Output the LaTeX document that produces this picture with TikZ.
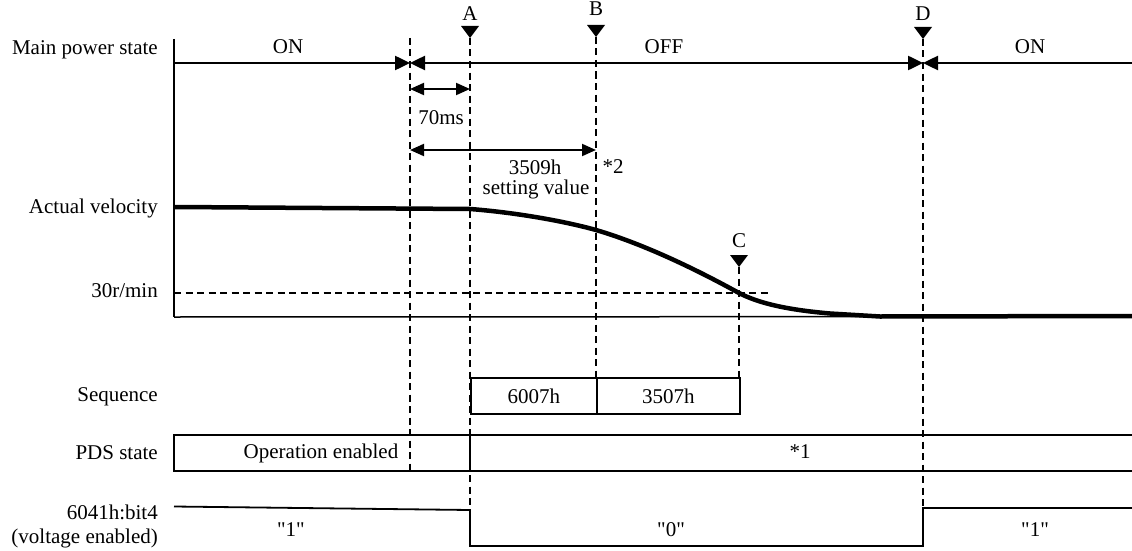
\documentclass[tikz,border=0pt]{standalone}
\usepackage{fontspec}
\setmainfont{Liberation Serif}[Ligatures=TeXOff]
\usetikzlibrary{arrows.meta}
\begin{document}
\begin{tikzpicture}[x=1pt,y=-1pt,
  every node/.style={font=\fontsize{21}{25}\selectfont, inner sep=0pt},
  lbl/.style={anchor=east},
  dline/.style={line width=1.6pt, dash pattern=on 7pt off 4.5pt},
  pline/.style={line width=2.5pt},
  sigline/.style={line width=1.8pt},
  thinline/.style={line width=1.5pt},
  vel/.style={line width=4.5pt},
  tipR/.style={-{Triangle[length=15pt,width=14pt]}},
  tipB/.style={{Triangle[length=15pt,width=14pt]}-{Triangle[length=15pt,width=14pt]}},
  dimarrow/.style={line width=2pt,{Triangle[length=14pt,width=12pt]}-{Triangle[length=14pt,width=12pt]}},
  marker/.style={fill=black}
]
\useasboundingbox (0,0) rectangle (1132,551);

% ---- left labels
\node[lbl] (lMain) at (158,50) {Main power state};
\node[lbl] (lVel) at (158,208) {Actual velocity};
\node[lbl] (l30) at (158,291) {30r/min};
\node[lbl] (lSeq) at (158,397) {Sequence};
\node[lbl] (lPDS) at (158,453) {PDS state};
\node[lbl] (lBit) at (158,512) {6041h:bit4};
\node[lbl] (lVolt) at (158,538) {(voltage enabled)};

% ---- key coordinates
\coordinate (axTop) at (174,39);
\coordinate (axBot) at (174,317);
\coordinate (pL) at (174,63);
\coordinate (p1) at (410,63);
\coordinate (pD) at (923,63);
\coordinate (pR) at (1132,63);

% ---- dashed time lines
\coordinate (t1top) at (410,38);  \coordinate (t1bot) at (410,474);
\coordinate (tAtop) at (470,38); \coordinate (tAbot) at (470,510);
\coordinate (tBtop) at (596,37);  \coordinate (tBbot) at (596,377);
\coordinate (tCtop) at (739,267); \coordinate (tCbot) at (739,377);
\coordinate (tDtop) at (923,39);  \coordinate (tDbot) at (923,508);
\draw[dline] (t1top) -- (t1bot);
\draw[dline] (tAtop) -- (tAbot);
\draw[dline] (tBtop) -- (tBbot);
\draw[dline] (tCtop) -- (tCbot);
\draw[dline] (tDtop) -- (tDbot);

% ---- 30r/min dashed level
\coordinate (h30L) at (174,293);
\coordinate (h30R) at (768,293);
\draw[dline] (h30L) -- (h30R);

% ---- axes
\draw[thinline] (axTop) -- (axBot);
\coordinate (velAxR) at (1132,316.5);
\draw[thinline] (axBot) -- (velAxR);

% ---- main power state line
\draw[pline,tipR] (pL) -- (p1);
\draw[pline,tipB] (p1) -- (pD);
\draw[pline,tipR] (pR) -- (pD);
\node (on1) at (288,47) {ON};
\node (off) at (664,47) {OFF};
\node (on2) at (1030,47) {ON};

% ---- markers
\fill[marker] (tAtop) -- ++(-9,-12) -- ++(18,0) -- cycle;
\fill[marker] (tBtop) -- ++(-9,-12) -- ++(18,0) -- cycle;
\fill[marker] (tCtop) -- ++(-9,-12) -- ++(18,0) -- cycle;
\fill[marker] (tDtop) -- ++(-9,-12) -- ++(18,0) -- cycle;
\node (mA) at (470,14) {A};
\node (mB) at (596,9) {B};
\node (mC) at (739,241) {C};
\node (mD) at (923,14) {D};

% ---- dimension arrows
\coordinate (d70L) at (410,89);  \coordinate (d70R) at (470,89);
\draw[dimarrow] (d70L) -- (d70R);
\node (t70) at (441,118) {70ms};
\coordinate (d35L) at (410,150); \coordinate (d35R) at (596,150);
\draw[dimarrow] (d35L) -- (d35R);
\node (t3509) at (535,167) {3509h};
\node (tset) at (536,189) {setting value};
\node (tstar2) at (613,167) {*2};

% ---- actual velocity
\draw[vel, line join=round] (175,207) -- (470,209)
  .. controls (510,212) and (560,220) .. (596,230)
  .. controls (640,243) and (690,266) .. (739,293)
  .. controls (760,304) and (790,310) .. (830,313.5)
  -- (880,316.5) -- (1132,316);

% ---- sequence boxes
\node[draw, line width=1.8pt, minimum width=126pt, minimum height=36pt, anchor=north west] (s6007) at (470,377) {6007h};
\node[draw, line width=1.8pt, minimum width=143pt, minimum height=36pt, anchor=north west] (s3507) at (596,377) {3507h};

% ---- PDS state
\coordinate (pdsTL) at (174,435); \coordinate (pdsBL) at (174,471);
\coordinate (pdsTR) at (1132,435); \coordinate (pdsBR) at (1132,471);
\coordinate (pdsDT) at (470,435); \coordinate (pdsDB) at (470,471);
\draw[sigline] (pdsTR) -- (pdsTL) -- (pdsBL) -- (pdsBR);
\draw[sigline] (pdsDT) -- (pdsDB);
\node (opEn) at (321,453) {Operation enabled};
\node (star1) at (800,452) {*1};

% ---- 6041h bit4
\draw[sigline] (174,506.5) -- (470,510) -- (470,546) -- (923,546) -- (923,508) -- (1132,508);
\node (b1) at (291,530) {"1"};
\node (b0) at (671,530) {"0"};
\node (b2) at (1035,530) {"1"};
\end{tikzpicture}
\end{document}
